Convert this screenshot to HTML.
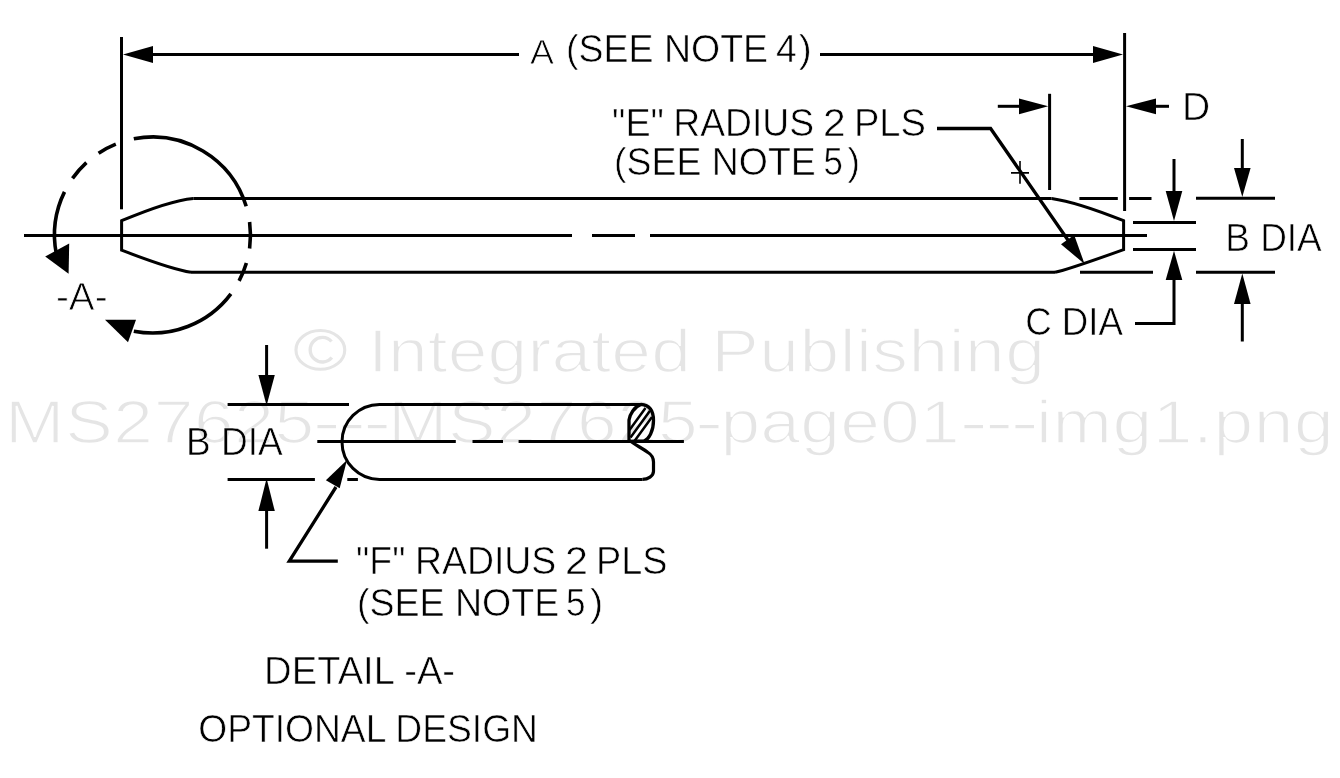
<!DOCTYPE html>
<html><head><meta charset="utf-8"><style>
html,body{margin:0;padding:0;background:#fff;width:1340px;height:778px;overflow:hidden}
svg{display:block;will-change:transform}
text{font-family:"Liberation Sans",sans-serif}
</style></head><body>
<svg width="1340" height="778" viewBox="0 0 1340 778" font-family="Liberation Sans, sans-serif"><ellipse cx="320.35" cy="349.9" rx="24.4" ry="19.4" fill="none" stroke="#e5e5e5" stroke-width="3.1"/>
<path d="M331.5 341.5 A12.2 12.3 0 1 0 331.8 357.5" fill="none" stroke="#e5e5e5" stroke-width="3.4"/>
<text transform="translate(367.88 371.60) scale(1.17 1)" x="0" y="0" font-size="61" letter-spacing="0.154" fill="#e5e5e5" stroke="#fff" stroke-width="1.6">Integrated</text>
<text transform="translate(711.18 371.60) scale(1.17 1)" x="0" y="0" font-size="61" letter-spacing="0.43" fill="#e5e5e5" stroke="#fff" stroke-width="1.6">Publishing</text>
<text transform="translate(5.08 442.70) scale(1.17 1)" x="0" y="0" font-size="61" letter-spacing="0.536" fill="#e5e5e5" stroke="#fff" stroke-width="1.6">MS27625</text>
<text transform="translate(312.5 442.70) scale(1.4 1)" x="0" y="0" font-size="61" letter-spacing="-2.286" fill="#e5e5e5" stroke="#fff" stroke-width="1.6">---</text>
<text transform="translate(387.88 442.70) scale(1.17 1)" x="0" y="0" font-size="61" letter-spacing="0.607" fill="#e5e5e5" stroke="#fff" stroke-width="1.6">MS27625</text>
<text transform="translate(694.74 442.70) scale(1.4154 1)" x="0" y="0" font-size="61" letter-spacing="0" fill="#e5e5e5" stroke="#fff" stroke-width="1.6">-</text>
<text transform="translate(720.45 442.70) scale(1.17 1)" x="0" y="0" font-size="61" letter-spacing="0.179" fill="#e5e5e5" stroke="#fff" stroke-width="1.6">page01</text>
<text transform="translate(959.4 442.70) scale(1.4 1)" x="0" y="0" font-size="61" letter-spacing="-2.036" fill="#e5e5e5" stroke="#fff" stroke-width="1.6">---</text>
<text transform="translate(1035.95 442.70) scale(1.17 1)" x="0" y="0" font-size="61" letter-spacing="0.504" fill="#e5e5e5" stroke="#fff" stroke-width="1.6">img1.png</text>
<path d="M121.5 37 V209.3" fill="none" stroke="#000" stroke-width="3"/>
<path d="M1124.6 33 V211" fill="none" stroke="#000" stroke-width="3"/>
<path d="M150 54.6 H519 M820 54.6 H1096" fill="none" stroke="#000" stroke-width="3"/>
<polygon points="123.0,54.6 153.0,46.1 153.0,63.1" fill="#000"/>
<polygon points="1123.0,54.6 1093.0,63.1 1093.0,46.1" fill="#000"/>
<path d="M1049.6 93.8 V190" fill="none" stroke="#000" stroke-width="3"/>
<path d="M997.8 106.3 H1021" fill="none" stroke="#000" stroke-width="3"/>
<polygon points="1048.2,106.3 1019.0,114.2 1019.0,98.4" fill="#000"/>
<path d="M1154 106.3 H1169" fill="none" stroke="#000" stroke-width="3"/>
<polygon points="1126.0,106.3 1156.0,98.4 1156.0,114.2" fill="#000"/>
<path d="M937 128.5 H990.6 L1070 243" fill="none" stroke="#000" stroke-width="3.3"/>
<polygon points="1084.6,264.1 1061.0,244.2 1074.2,235.0" fill="#000"/>
<path d="M1011 172.9 H1029 M1020 161 V183.8" fill="none" stroke="#000" stroke-width="1.6"/>
<path d="M193.3 198.4 H1051.6 M191 272.3 H1055" fill="none" stroke="#000" stroke-width="3"/>
<path d="M193.3 198.4 Q169 200.7 121.6 220.7 V250.2 Q172 269.5 191 272.3" fill="none" stroke="#000" stroke-width="3"/>
<path d="M1051.6 198.4 Q1077 202 1123.6 220.7 V249.6 Q1067.5 269.8 1055 272.3" fill="none" stroke="#000" stroke-width="3"/>
<path d="M24 235.5 H572 M592 235.5 H635 M650 235.5 H1147" fill="none" stroke="#000" stroke-width="3"/>
<path d="M1079.4 198.4 H1117.8 M1129.1 198.4 H1151.5 M1080 272.3 H1153" fill="none" stroke="#000" stroke-width="3"/>
<path d="M1196 198.3 H1275 M1196 272.2 H1275" fill="none" stroke="#000" stroke-width="3"/>
<path d="M1133 222.6 H1196 M1133 249.4 H1196" fill="none" stroke="#000" stroke-width="3"/>
<path d="M1174 159 V194" fill="none" stroke="#000" stroke-width="3"/>
<polygon points="1174.0,221.0 1165.7,191.0 1182.3,191.0" fill="#000"/>
<path d="M1174 278 V323.6 H1135" fill="none" stroke="#000" stroke-width="3"/>
<polygon points="1174.0,250.8 1182.3,280.0 1165.7,280.0" fill="#000"/>
<path d="M1242.3 139 V170" fill="none" stroke="#000" stroke-width="3"/>
<polygon points="1242.3,197.0 1234.0,168.0 1250.6,168.0" fill="#000"/>
<path d="M1242.3 302 V341.5" fill="none" stroke="#000" stroke-width="3"/>
<polygon points="1242.3,273.5 1250.6,304.0 1234.0,304.0" fill="#000"/>
<path d="M133.8 138.8 A98 98 0 0 1 246.2 206.3" fill="none" stroke="#000" stroke-width="3.6"/>
<path d="M249.6 221.9 A98 98 0 0 1 249.6 248.5" fill="none" stroke="#000" stroke-width="3.6"/>
<path d="M246.4 263.0 A98 98 0 0 1 239.1 280.9" fill="none" stroke="#000" stroke-width="3.6"/>
<path d="M230.9 293.8 A98 98 0 0 1 133.8 331.2" fill="none" stroke="#000" stroke-width="3.6"/>
<path d="M115.8 144.1 A98 98 0 0 0 98.6 153.2" fill="none" stroke="#000" stroke-width="3.6"/>
<path d="M86.4 162.6 A98 98 0 0 0 72.5 178.4" fill="none" stroke="#000" stroke-width="3.6"/>
<path d="M64.5 191.9 A98 98 0 0 0 56.3 253.7" fill="none" stroke="#000" stroke-width="3.6"/>
<polygon points="45.2,256.5 69.2,243.6 68.6,273.8" fill="#000"/>
<polygon points="105.0,319.7 136.0,319.7 128.0,342.3" fill="#000"/>
<path d="M227.6 404.4 H349 M227.6 479.5 H314.9 M347.3 479.5 H357.9" fill="none" stroke="#000" stroke-width="3"/>
<path d="M266.6 345 V377" fill="none" stroke="#000" stroke-width="3"/>
<polygon points="266.6,405.5 258.4,375.0 274.8,375.0" fill="#000"/>
<path d="M266.6 508 V548.7" fill="none" stroke="#000" stroke-width="3"/>
<polygon points="266.6,478.5 274.8,511.0 258.4,511.0" fill="#000"/>
<path d="M317.3 441.5 H455.8 M472.5 441.5 H503 M518.6 441.5 H683.9" fill="none" stroke="#000" stroke-width="3"/>
<path d="M379.5 404.4 H642.4 M379.5 479.4 H642.4 M379.5 404.4 A37.5 37.5 0 0 0 379.5 479.4" fill="none" stroke="#000" stroke-width="3"/>
<path d="M641 404.4 C649 405 653.5 410 653.5 420.5 C653.5 431 649 439 644 441 L629 441.3 V420 C630 414 634 407 641 404.4" fill="none" stroke="#000" stroke-width="3.3"/>
<path d="M631 441.5 C637 446 642 448 648 452.5 C652 455 653.5 458 653.5 462 V471.3 C653.5 476 648 479.4 642.4 479.4" fill="none" stroke="#000" stroke-width="3.2"/>
<path d="M629.5 430 L645.5 408 M630.5 437.5 L650 410.8 M634.5 441 L652 417" fill="none" stroke="#000" stroke-width="2.5"/>
<path d="M336 487 L289.3 561.2 H337.8" fill="none" stroke="#000" stroke-width="3.3"/>
<polygon points="347.0,460.0 339.7,488.3 325.9,480.3" fill="#000"/>
<text x="529.9" y="64.2" font-size="35.5" textLength="24.0" lengthAdjust="spacingAndGlyphs" fill="#000" stroke="#fff" stroke-width="0.8">A</text>
<text x="566.1" y="62.1" font-size="39" textLength="202.0" lengthAdjust="spacingAndGlyphs" fill="#000" stroke="#fff" stroke-width="0.6">(SEE NOTE</text>
<text x="775.9" y="62.1" font-size="39" textLength="20.8" lengthAdjust="spacingAndGlyphs" fill="#000" stroke="#fff" stroke-width="0.6">4</text>
<text x="798.8" y="62.1" font-size="39" textLength="13.0" lengthAdjust="spacingAndGlyphs" fill="#000" stroke="#fff" stroke-width="0.6">)</text>
<text x="1182.0" y="120.2" font-size="39" textLength="28.2" lengthAdjust="spacingAndGlyphs" fill="#000" stroke="#fff" stroke-width="0.6">D</text>
<text x="612.0" y="136.3" font-size="39" textLength="51.9" lengthAdjust="spacingAndGlyphs" fill="#000" stroke="#fff" stroke-width="0.6">&quot;E&quot;</text>
<text x="673.3" y="136.3" font-size="39" textLength="140.7" lengthAdjust="spacingAndGlyphs" fill="#000" stroke="#fff" stroke-width="0.6">RADIUS</text>
<text x="823.1" y="136.3" font-size="39" textLength="22.7" lengthAdjust="spacingAndGlyphs" fill="#000" stroke="#fff" stroke-width="0.6">2</text>
<text x="853.9" y="136.3" font-size="39" textLength="72.0" lengthAdjust="spacingAndGlyphs" fill="#000" stroke="#fff" stroke-width="0.6">PLS</text>
<text x="614.1" y="175.0" font-size="39" textLength="201.7" lengthAdjust="spacingAndGlyphs" fill="#000" stroke="#fff" stroke-width="0.6">(SEE NOTE</text>
<text x="823.4" y="175.0" font-size="39" textLength="19.4" lengthAdjust="spacingAndGlyphs" fill="#000" stroke="#fff" stroke-width="0.6">5</text>
<text x="847.4" y="175.0" font-size="39" textLength="12.5" lengthAdjust="spacingAndGlyphs" fill="#000" stroke="#fff" stroke-width="0.6">)</text>
<text x="1225.2" y="251.3" font-size="39" textLength="96.6" lengthAdjust="spacingAndGlyphs" fill="#000" stroke="#fff" stroke-width="0.6">B DIA</text>
<text x="1025.2" y="335.2" font-size="39" textLength="97.7" lengthAdjust="spacingAndGlyphs" fill="#000" stroke="#fff" stroke-width="0.6">C DIA</text>
<text x="56.0" y="310.4" font-size="39.5" textLength="51.5" lengthAdjust="spacingAndGlyphs" fill="#000" stroke="#fff" stroke-width="0.8">-A-</text>
<text x="186.1" y="455.2" font-size="39" textLength="96.7" lengthAdjust="spacingAndGlyphs" fill="#000" stroke="#fff" stroke-width="0.6">B DIA</text>
<text x="356.1" y="574.0" font-size="39" textLength="49.4" lengthAdjust="spacingAndGlyphs" fill="#000" stroke="#fff" stroke-width="0.6">&quot;F&quot;</text>
<text x="415.0" y="574.0" font-size="39" textLength="141.3" lengthAdjust="spacingAndGlyphs" fill="#000" stroke="#fff" stroke-width="0.6">RADIUS</text>
<text x="565.1" y="574.0" font-size="39" textLength="23.0" lengthAdjust="spacingAndGlyphs" fill="#000" stroke="#fff" stroke-width="0.6">2</text>
<text x="596.0" y="574.0" font-size="39" textLength="71.5" lengthAdjust="spacingAndGlyphs" fill="#000" stroke="#fff" stroke-width="0.6">PLS</text>
<text x="356.9" y="616.4" font-size="39" textLength="202.3" lengthAdjust="spacingAndGlyphs" fill="#000" stroke="#fff" stroke-width="0.6">(SEE NOTE</text>
<text x="566.0" y="616.4" font-size="39" textLength="19.5" lengthAdjust="spacingAndGlyphs" fill="#000" stroke="#fff" stroke-width="0.6">5</text>
<text x="590.0" y="616.4" font-size="39" textLength="13.2" lengthAdjust="spacingAndGlyphs" fill="#000" stroke="#fff" stroke-width="0.6">)</text>
<text x="264.1" y="684.4" font-size="39" textLength="191.0" lengthAdjust="spacingAndGlyphs" fill="#000" stroke="#fff" stroke-width="0.6">DETAIL -A-</text>
<text x="198.2" y="742.2" font-size="39" textLength="339.8" lengthAdjust="spacingAndGlyphs" fill="#000" stroke="#fff" stroke-width="0.6">OPTIONAL DESIGN</text></svg>
</body></html>
